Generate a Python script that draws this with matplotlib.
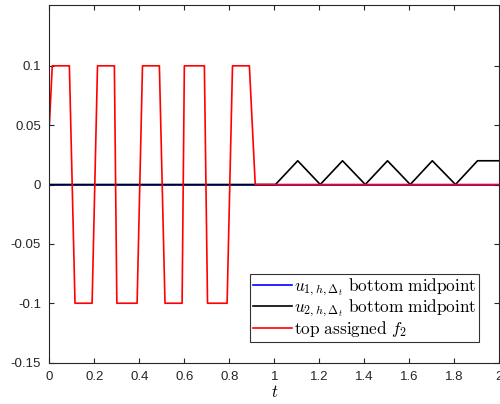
import matplotlib
matplotlib.use("Agg")
import matplotlib.pyplot as plt

# time samples and values
t_f2 = [0, 0.013, 0.089, 0.114, 0.190, 0.214, 0.289, 0.300, 0.390, 0.414,
        0.489, 0.514, 0.590, 0.600, 0.689, 0.703, 0.790, 0.814, 0.889, 0.915, 2.0]
f2 = [0.05, 0.1, 0.1, -0.1, -0.1, 0.1, 0.1, -0.1, -0.1, 0.1,
      0.1, -0.1, -0.1, 0.1, 0.1, -0.1, -0.1, 0.1, 0.1, 0.0, 0.0]

t_u2 = [0, 1.005, 1.104, 1.204, 1.303, 1.404, 1.503, 1.604, 1.702, 1.805, 1.903, 2.0]
u2 = [0, 0, 0.02, 0, 0.02, 0, 0.02, 0, 0.02, 0, 0.02, 0.02]

t_u1 = [0, 2.0]
u1 = [0, 0]

xticks = [0, 0.2, 0.4, 0.6, 0.8, 1, 1.2, 1.4, 1.6, 1.8, 2]
xtick_labels = ["0", "0.2", "0.4", "0.6", "0.8", "1", "1.2", "1.4", "1.6", "1.8", "2"]
yticks = [-0.15, -0.1, -0.05, 0, 0.05, 0.1]
ytick_labels = ["-0.15", "-0.1", "-0.05", "0", "0.05", "0.1"]

plt.rcParams["mathtext.fontset"] = "cm"
plt.rcParams["font.family"] = ["Liberation Sans", "DejaVu Sans"]

fig = plt.figure(figsize=(5.0, 4.04), dpi=100)
ax = fig.add_axes([0.0987, 0.1025, 0.9, 0.8845])

ax.plot(t_u1, u1, color="blue", lw=1.2, label=r"$u_{1,h,\Delta_t}\ \mathrm{bottom\ midpoint}$")
ax.plot(t_u2, u2, color="black", lw=1.2, label=r"$u_{2,h,\Delta_t}\ \mathrm{bottom\ midpoint}$")
ax.plot(t_f2, f2, color="red", lw=1.2, label=r"$\mathrm{top\ assigned}\ f_2$")

ax.set_xlim(0, 2)
ax.set_ylim(-0.15, 0.151)
ax.set_xticks(xticks)
ax.set_xticklabels(xtick_labels)
ax.set_yticks(yticks)
ax.set_yticklabels(ytick_labels)

axcol = "#262626"
for s in ax.spines.values():
    s.set_color(axcol)
    s.set_linewidth(0.8)
ax.tick_params(direction="in", top=True, right=True, length=3.5, width=0.8,
               colors=axcol, labelsize=9.5, labelcolor=axcol, pad=6)

ax.set_xlabel(r"$t$", fontsize=12, labelpad=1)

leg = ax.legend(loc="lower right", bbox_to_anchor=(0.9556, 0.058), fontsize=12.4,
                frameon=True, fancybox=False, borderpad=0.15, labelspacing=0.0,
                handlelength=2.3, handletextpad=0.1, borderaxespad=0)
leg.get_frame().set_edgecolor("black")
leg.get_frame().set_linewidth(0.8)

fig.savefig("out.png", dpi=100)
